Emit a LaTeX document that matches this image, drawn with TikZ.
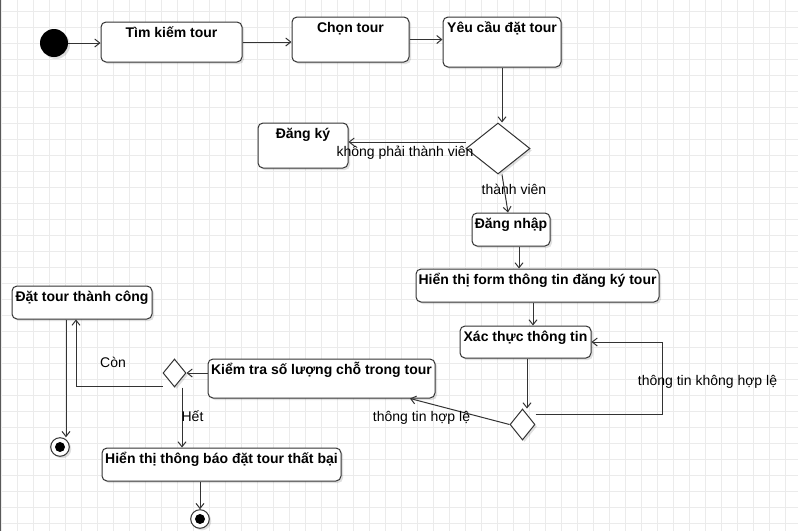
\documentclass[tikz,border=0pt]{standalone}
\usepackage{fontspec}
\setmainfont{Liberation Sans}
\usetikzlibrary{arrows.meta,shapes.geometric,shadows}
\definecolor{line}{HTML}{333333}
\definecolor{gridc}{HTML}{EBEBEB}
\newcommand{\boxfont}{\fontsize{14}{16}\selectfont\bfseries}
\newcommand{\lblfont}{\fontsize{14}{16}\selectfont}
\begin{document}
\begin{tikzpicture}[x=1pt,y=-1pt,
  soft/.style={drop shadow={shadow xshift=2pt,shadow yshift=-2pt,opacity=0.12,fill=black}},
  act/.style={draw=line,line width=1pt,rounded corners=5pt,fill=white,
    inner xsep=0pt,inner ysep=0pt,text height=15.5pt,font=\boxfont,soft},
  dec/.style={diamond,draw=line,line width=1pt,fill=white,inner sep=0pt,soft},
  initial/.style={circle,fill=black,inner sep=0pt,minimum size=28pt,soft},
  final/.style={circle,draw=line,line width=1pt,fill=white,inner sep=0pt,minimum size=18.6pt,soft},
  flow/.style={draw=line,line width=1pt,-{Straight Barb[length=5pt,width=8pt]}},
  guard/.style={anchor=base,font=\lblfont,inner sep=0pt}]
\useasboundingbox (0,0) rectangle (798,531);
\fill[white] (0,0) rectangle (798,531);
% background grid
\foreach \gx in {1,17,...,785} \draw[gridc,line width=1pt] (\gx,0) -- (\gx,531);
\foreach \gy in {11,27,...,523} \draw[gridc,line width=1pt] (0,\gy) -- (798,\gy);
\draw[black!65,line width=1pt] (0.5,0) -- (0.5,531);

% activities
\node[initial] (start) at (54,43) {};
\node[act,minimum width=141pt,text depth=24.5pt] (find) at (171.5,42) {Tìm kiếm tour};
\node[act,minimum width=117pt,text depth=29.5pt] (choose) at (350.5,39.5) {Chọn tour};
\node[act,minimum width=118pt,text depth=34.5pt] (request) at (502,42) {Yêu cầu đặt tour};
\node[dec,minimum width=64pt,minimum height=51pt] (d1) at (498,148.5) {};
\node[act,minimum width=90pt,text depth=29.5pt] (register) at (303,145.5) {Đăng ký};
\node[act,minimum width=78pt,text depth=17.5pt] (login) at (511,229.5) {Đăng nhập};
\node[act,minimum width=243pt,text depth=17.5pt] (form) at (537.5,285.5) {Hiển thị form thông tin đăng ký tour};
\node[act,minimum width=131pt,text depth=16.5pt] (verify) at (525.5,342) {Xác thực thông tin};
\node[dec,minimum width=25pt,minimum height=31pt] (d2) at (522.5,424.5) {};
\node[act,minimum width=227pt,text depth=23.5pt] (check) at (321.5,378.5) {Kiểm tra số lượng chỗ trong tour};
\node[dec,minimum width=23pt,minimum height=28pt] (d3) at (174.5,373) {};
\node[act,minimum width=140pt,text depth=17.5pt] (success) at (82,302.5) {Đặt tour thành công};
\node[act,minimum width=239pt,text depth=17.5pt] (fail) at (221.5,464.5) {Hiển thị thông báo đặt tour thất bại};
\node[final] (end1) at (60,447) {};
\fill[black] (end1.center) circle (5pt);
\node[final] (end2) at (200,519) {};
\fill[black] (end2.center) circle (5pt);

% control flows
\draw[flow] (start.east) -- (start.east -| find.west);
\draw[flow] (find.east) -- (find.east -| choose.west);
\draw[flow] (choose.east) -- (choose.east -| request.west);
\draw[flow] (request.south) -- (request.south |- d1.north);
\draw[flow] ([yshift=6.5pt]d1.west) -- ([yshift=6.5pt]d1.west -| register.east);
\draw[flow] ([xshift=4pt]d1.south) -- ([xshift=-3pt]login.north);
\draw[flow] ([xshift=8pt]login.south) -- ([xshift=8pt]login.south |- form.north);
\draw[flow] ([xshift=7.5pt]verify.north |- form.south) -- ([xshift=7.5pt]verify.north);
\draw[flow] ([xshift=1.5pt]verify.south) -- ([xshift=1.5pt]verify.south |- d2.north);
\draw[flow] ([yshift=10.5pt]d2.east) -- ++(127,0) |- (verify.east);
\draw[flow] (d2.west) -- ([xshift=88.5pt]check.south);
\draw[flow] (check.west |- d3.east) -- (d3.east);
\draw[flow] ([yshift=-13pt]d3.west) -| ([xshift=-6pt]success.south);
\draw[flow] ([xshift=7.5pt]d3.south) -- ([xshift=7.5pt]d3.south |- fail.north);
\draw[flow] ([xshift=-16pt]success.south) -- ([xshift=-16pt]success.south |- end1.north);
\draw[flow] (end2.north |- fail.south) -- (end2.north);

% guards
\node[guard] (g1) at (405,156) {không phải thành viên};
\node[guard] (g2) at (514,194) {thành viên};
\node[guard] (g3) at (707.5,385) {thông tin không hợp lệ};
\node[guard] (g4) at (421.5,421) {thông tin hợp lệ};
\node[guard] (g5) at (113,367.5) {Còn};
\node[guard] (g6) at (192.5,421) {Hết};
\end{tikzpicture}
\end{document}
